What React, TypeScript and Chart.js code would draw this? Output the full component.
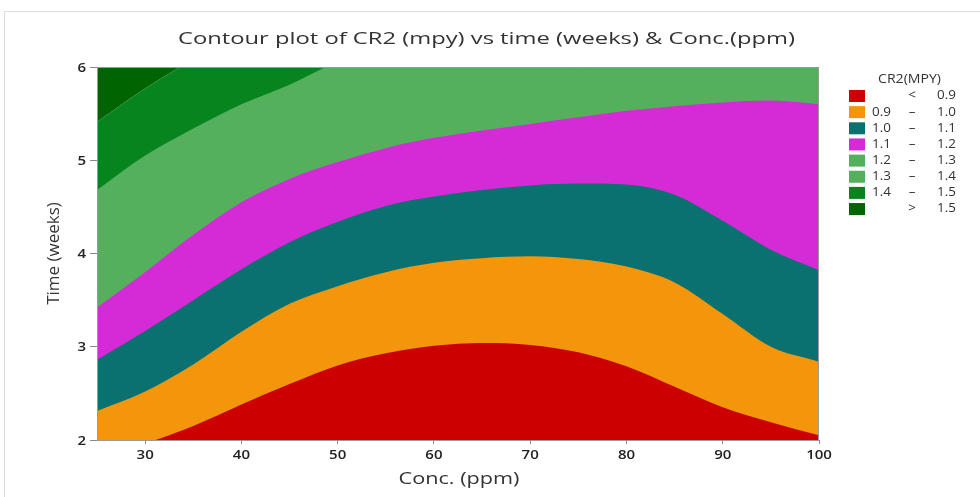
import React, { useEffect, useRef } from 'react';
import { Chart, registerables } from 'chart.js';

Chart.register(...registerables);

// Concentration (ppm) sample points along the x axis
const concValues = [25, 30, 35, 40, 45, 50, 55, 60, 65, 70, 75, 80, 85, 90, 95, 100];

// Contour boundaries: time (weeks) at which CR2 reaches each level
const level09 = [1.78, 1.96, 2.15, 2.38, 2.60, 2.80, 2.93, 3.01, 3.04, 3.02, 2.94, 2.79, 2.57, 2.35, 2.19, 2.05];
const level10 = [2.31, 2.52, 2.81, 3.16, 3.46, 3.65, 3.80, 3.90, 3.95, 3.97, 3.94, 3.86, 3.69, 3.35, 3.00, 2.84];
const level11 = [2.86, 3.17, 3.50, 3.83, 4.12, 4.34, 4.51, 4.61, 4.68, 4.73, 4.75, 4.74, 4.63, 4.35, 4.04, 3.82];
const level12 = [3.42, 3.80, 4.20, 4.55, 4.80, 4.98, 5.13, 5.24, 5.32, 5.39, 5.46, 5.53, 5.58, 5.62, 5.64, 5.60];
const level13 = [4.05, 4.42, 4.78, 5.08, 5.32, 5.50, 5.65, 5.75, 5.83, 5.90, 5.96, 6.02, 6.08, 6.12, 6.15, 6.15];
const level14 = [4.68, 5.05, 5.34, 5.60, 5.81, 6.06, 6.25, 6.40, 6.50, 6.55, 6.60, 6.65, 6.70, 6.72, 6.74, 6.75];
const level15 = [5.41, 5.77, 6.08, 6.35, 6.55, 6.70, 6.80, 6.90, 6.95, 7.00, 7.02, 7.04, 7.06, 7.08, 7.09, 7.10];

const bandLabels = ['< 0.9', '0.9 – 1.0', '1.0 – 1.1', '1.1 – 1.2', '1.2 – 1.3', '1.3 – 1.4', '1.4 – 1.5', '> 1.5'];
const legendLow = ['', '0.9', '1.0', '1.1', '1.2', '1.3', '1.4', ''];
const legendSep = ['<', '–', '–', '–', '–', '–', '–', '>'];
const legendHigh = ['0.9', '1.0', '1.1', '1.2', '1.3', '1.4', '1.5', '1.5'];
const bandColors = ['#cc0000', '#f4960c', '#0b7070', '#d42bd6', '#54b05c', '#54b05c', '#07841e', '#006400'];

const xTickValues = [30, 40, 50, 60, 70, 80, 90, 100];
const yTickValues = [2, 3, 4, 5, 6];

const titleText = 'Contour plot of CR2 (mpy) vs time (weeks) & Conc.(ppm)';
const xTitle = 'Conc. (ppm)';
const yTitle = 'Time (weeks)';
const legendTitle = 'CR2(MPY)';

const FONT = '"Open Sans", "Noto Sans", sans-serif';

// Each band is painted as the region below its upper contour; lower bands are
// drawn on top of higher ones, so adjacent colours meet without seams.
const bandUpper = [level09, level10, level11, level12, level13, level14, level15, level15];
const bandFill: any[] = ['start', 'start', 'start', 'start', 'start', 'start', 'start', 'end'];

function drawStretched(ctx: CanvasRenderingContext2D, text: string, x: number, y: number, align: CanvasTextAlign, sx: number) {
  ctx.save();
  ctx.translate(x, y);
  ctx.scale(sx, 1);
  ctx.textAlign = align;
  ctx.fillText(text, 0, 0);
  ctx.restore();
}

const framePlugin = {
  id: 'plotFrame',
  afterDatasetsDraw(chart: any) {
    const { ctx, chartArea } = chart;
    ctx.save();
    ctx.strokeStyle = '#9a9a9a';
    ctx.lineWidth = 1;
    ctx.strokeRect(Math.round(chartArea.left) + 0.5, Math.round(chartArea.top) + 0.5,
      Math.round(chartArea.right - chartArea.left) - 1, Math.round(chartArea.bottom - chartArea.top));
    ctx.restore();
  },
};

const textPlugin = {
  id: 'stretchedTexts',
  afterDraw(chart: any) {
    const { ctx, chartArea, scales } = chart;
    ctx.save();
    ctx.textBaseline = 'alphabetic';
    // main title
    ctx.fillStyle = '#333';
    ctx.font = `17px ${FONT}`;
    const tw = ctx.measureText(titleText).width;
    drawStretched(ctx, titleText, 486.5, 43.5, 'center', 617 / tw);
    // x axis title
    ctx.font = `16px ${FONT}`;
    const xw = ctx.measureText(xTitle).width;
    ctx.textBaseline = 'middle';
    drawStretched(ctx, xTitle, (chartArea.left + chartArea.right) / 2 + 1, 479, 'center', 121 / xw);
    // tick labels
    ctx.fillStyle = '#222';
    ctx.font = `600 12.5px ${FONT}`;
    for (const v of xTickValues) {
      drawStretched(ctx, String(v), scales.x.getPixelForValue(v), 455, 'center', 1.2);
    }
    for (const v of yTickValues) {
      drawStretched(ctx, String(v), chartArea.left - 11, scales.y.getPixelForValue(v) + 1, 'right', 1.2);
    }
    // legend
    const boxX = chartArea.right + 30;
    const firstY = 96;
    const step = 16.15;
    ctx.fillStyle = '#333';
    ctx.font = `12px ${FONT}`;
    const lw = ctx.measureText(legendTitle).width;
    drawStretched(ctx, legendTitle, boxX + 60.5, 80, 'center', 63 / lw);
    for (let i = 0; i < bandLabels.length; i++) {
      const cy = firstY + i * step;
      ctx.fillStyle = bandColors[i];
      ctx.fillRect(boxX, cy - 6, 16, 12);
      ctx.fillStyle = '#333';
      if (legendLow[i]) drawStretched(ctx, legendLow[i], boxX + 42, cy, 'right', 1.12);
      drawStretched(ctx, legendSep[i], boxX + 63, cy, 'center', 1.12);
      drawStretched(ctx, legendHigh[i], boxX + 107, cy, 'right', 1.12);
    }
    ctx.restore();
  },
};

export default function App() {
  const canvasRef = useRef<HTMLCanvasElement | null>(null);

  useEffect(() => {
    const canvas = canvasRef.current;
    if (!canvas) return;
    const datasets = bandUpper.map((vals, i) => ({
      label: bandLabels[i],
      data: vals.map((v, j) => ({ x: concValues[j], y: v })),
      backgroundColor: bandColors[i],
      borderColor: bandColors[i],
      borderWidth: 0,
      pointRadius: 0,
      fill: bandFill[i],
      cubicInterpolationMode: 'monotone' as const,
    }));
    const chart = new Chart(canvas, {
      type: 'line',
      data: { datasets },
      options: {
        animation: false,
        responsive: false,
        events: [],
        layout: { padding: { left: 0, right: 161, top: 67, bottom: 0 } },
        plugins: {
          legend: { display: false },
          tooltip: { enabled: false },
          title: { display: false },
          filler: { propagate: false, drawTime: 'beforeDatasetDraw' },
        },
        scales: {
          x: {
            type: 'linear',
            min: 25,
            max: 100,
            afterBuildTicks: (s: any) => { s.ticks = xTickValues.map((v) => ({ value: v })); },
            afterFit: (s: any) => { s.height = 57; },
            grid: { display: true, drawOnChartArea: false, drawTicks: true, tickLength: 4, color: '#8a8a8a' },
            border: { display: true, color: '#8a8a8a' },
            ticks: { display: false },
            title: { display: false },
          },
          y: {
            type: 'linear',
            min: 2,
            max: 6,
            afterBuildTicks: (s: any) => { s.ticks = yTickValues.map((v) => ({ value: v })); },
            afterFit: (s: any) => { s.width = 97; },
            grid: { display: true, drawOnChartArea: false, drawTicks: true, tickLength: 7, color: '#8a8a8a' },
            border: { display: true, color: '#8a8a8a' },
            ticks: { display: false },
            title: { display: true, text: yTitle, color: '#333', font: { family: FONT, size: 17 }, padding: { top: 44, bottom: 0 } },
          },
        },
      } as any,
      plugins: [framePlugin, textPlugin],
    });
    return () => chart.destroy();
  }, []);

  return (
    <div style={{ position: 'absolute', left: 0, top: 0, width: 980, height: 497, background: '#fff' }}>
      <div style={{ position: 'absolute', left: 4, top: 11, right: 0, bottom: 0, borderLeft: '1px solid #dcdcdc', borderTop: '1px solid #dcdcdc' }} />
      <canvas ref={canvasRef} width={980} height={497} style={{ position: 'absolute', left: 0, top: 0 }} />
    </div>
  );
}
